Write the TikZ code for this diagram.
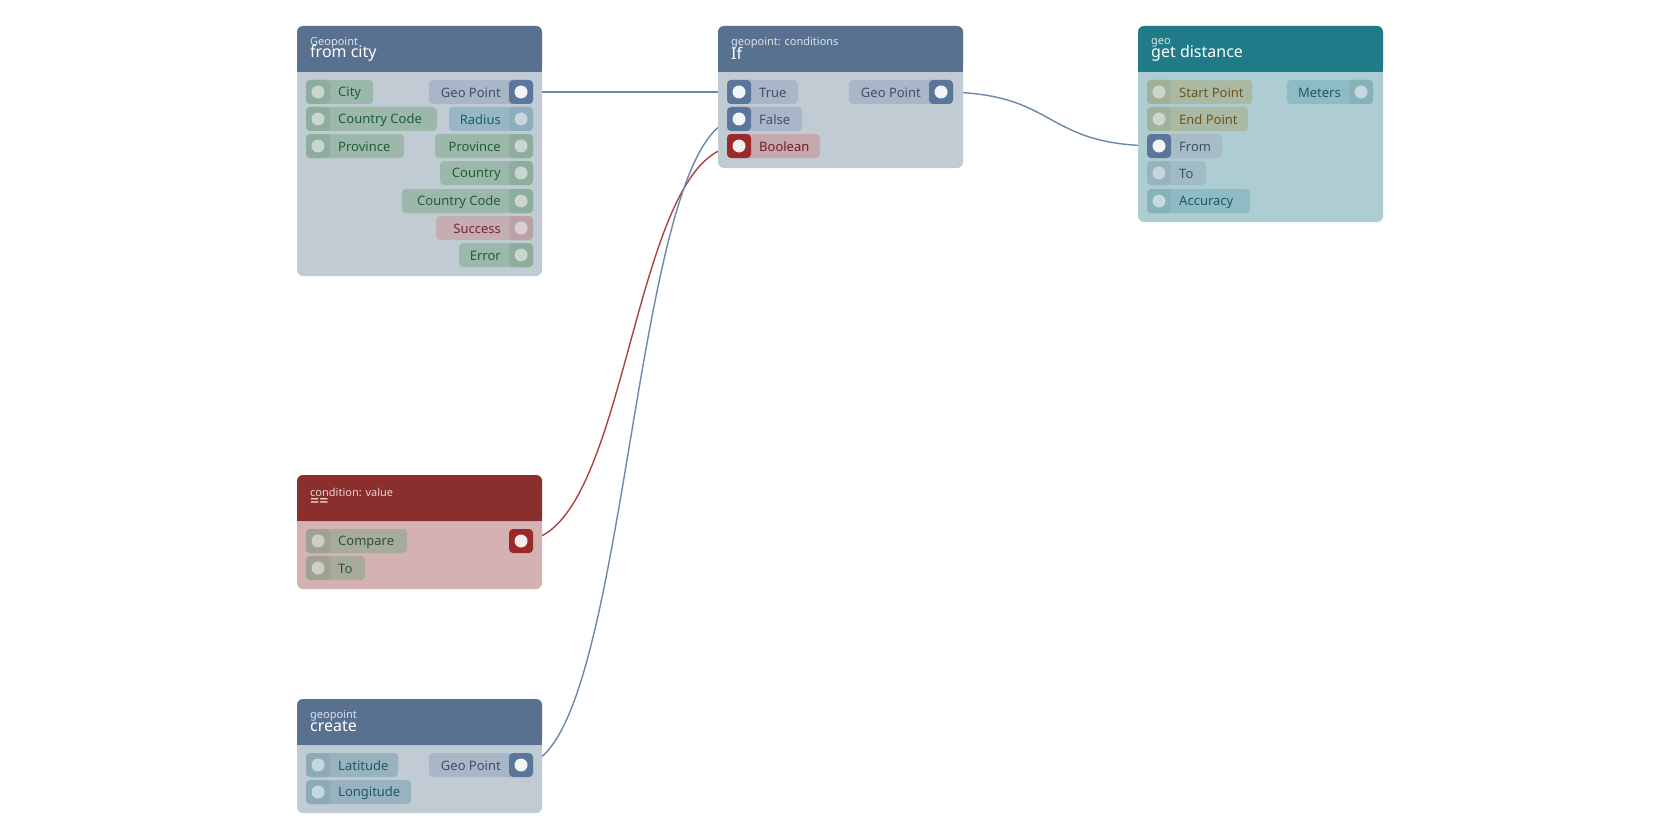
\documentclass[tikz,border=0pt]{standalone}
\usepackage{fontspec}
\setmainfont{Noto Sans}
\usetikzlibrary{backgrounds}
\definecolor{headB}{HTML}{587190}\definecolor{bodyB}{HTML}{C1CBD4}
\definecolor{headT}{HTML}{1E7B87}\definecolor{bodyT}{HTML}{ADCDD3}
\definecolor{headR}{HTML}{8B2E2E}\definecolor{bodyR}{HTML}{D4B2B4}
% pin types: P pill, S socket, D dot, T text
\definecolor{grnP}{HTML}{9BB8AB}\definecolor{grnS}{HTML}{8DAE9F}\definecolor{grnD}{HTML}{C8D6CF}\definecolor{grnT}{HTML}{1F5C3A}
\definecolor{gpP}{HTML}{A8B6C8}\definecolor{gpS}{HTML}{5A769A}\definecolor{gpD}{HTML}{F2F5F8}\definecolor{gpT}{HTML}{3D5068}
\definecolor{radP}{HTML}{98B7C4}\definecolor{radS}{HTML}{8DAEBC}\definecolor{radD}{HTML}{C5D6DD}\definecolor{radT}{HTML}{1F5C70}
\definecolor{sucP}{HTML}{C4ADB3}\definecolor{sucS}{HTML}{BBA2A9}\definecolor{sucD}{HTML}{DCCDD1}\definecolor{sucT}{HTML}{7A2A2A}
\definecolor{booP}{HTML}{C4A8AE}\definecolor{booS}{HTML}{9A2A2A}\definecolor{booD}{HTML}{F5ECEC}\definecolor{booT}{HTML}{6E1F22}
\definecolor{oliP}{HTML}{AAB9A4}\definecolor{oliS}{HTML}{A0B09A}\definecolor{oliD}{HTML}{CDD6CA}\definecolor{oliT}{HTML}{6A5520}
\definecolor{frP}{HTML}{A8BCC6}\definecolor{frS}{HTML}{5A769A}\definecolor{frD}{HTML}{F2F5F8}\definecolor{frT}{HTML}{3D5068}
\definecolor{toP}{HTML}{9FBCC6}\definecolor{toS}{HTML}{96B3BE}\definecolor{toD}{HTML}{C5D6DD}\definecolor{toT}{HTML}{3D5068}
\definecolor{accP}{HTML}{8FBCC4}\definecolor{accS}{HTML}{86B2BA}\definecolor{accD}{HTML}{C5DADE}\definecolor{accT}{HTML}{1F5868}
\definecolor{cmpP}{HTML}{A8AA9C}\definecolor{cmpS}{HTML}{9FA193}\definecolor{cmpD}{HTML}{CDCFC6}\definecolor{cmpT}{HTML}{2A5535}
\definecolor{latP}{HTML}{98B3BF}\definecolor{latS}{HTML}{8DAAB7}\definecolor{latD}{HTML}{C5D6DD}\definecolor{latT}{HTML}{1F5868}
\definecolor{wireB}{HTML}{6D87A8}\definecolor{wireR}{HTML}{A84444}
\newcommand\pinfont{\fontsize{13}{15}\selectfont}
\newcommand\lpin[6]{%
 \fill[#2P,rounded corners=4pt] (#3,#5-12) rectangle (#4,#5+12);
 \fill[#2S,rounded corners=4pt] (#3,#5-12) rectangle (#3+24,#5+12);
 \node[circle,fill=#2D,minimum size=13pt,inner sep=0pt] (#1) at (#3+12,#5) {};
 \node[anchor=west,text=#2T,font=\pinfont,inner sep=0pt] (#1l) at (#3+32,#5+1) {#6};}
\newcommand\rpin[6]{%
 \fill[#2P,rounded corners=4pt] (#3,#5-12) rectangle (#4,#5+12);
 \fill[#2S,rounded corners=4pt] (#4-24,#5-12) rectangle (#4,#5+12);
 \node[circle,fill=#2D,minimum size=13pt,inner sep=0pt] (#1) at (#4-12,#5) {};
 \node[anchor=east,text=#2T,font=\pinfont,inner sep=0pt] (#1l) at (#4-32,#5+1) {#6};}
\newcommand\gnode[8]{% name x1 y1 x2 y2 head body sub
 \fill[#7,rounded corners=6pt] (#2,#3) rectangle (#4,#5);
 \fill[#6,rounded corners=6pt] (#2,#3) rectangle (#4,#3+46);
 \fill[#6] (#2,#3+30) rectangle (#4,#3+46);
 \node[anchor=west,inner sep=0pt,text=white!80!#6,font=\fontsize{11}{12}\selectfont] (#1s) at (#2+13,#3+17) {#8};}
\begin{document}
\begin{tikzpicture}[x=1pt,y=-1pt,wire/.style={line width=1.4pt},
  ttl/.style={anchor=west,inner sep=0pt,text=white,font=\fontsize{16}{18}\selectfont}]
\useasboundingbox (0,0) rectangle (1680,840);
% node 1
\gnode{na}{297}{26}{542}{276}{headB}{bodyB}{Geopoint}
\node[ttl] (nat) at (310,53) {from city};
\lpin{aCity}{grn}{306}{373}{92}{City}
\lpin{aCC}{grn}{306}{437}{119}{Country Code}
\lpin{aProv}{grn}{306}{404}{146}{Province}
\rpin{aGP}{gp}{429}{533}{92}{Geo Point}
\rpin{aRad}{rad}{449}{533}{119}{Radius}
\rpin{aProvO}{grn}{435}{533}{146}{Province}
\rpin{aCtry}{grn}{440}{533}{173}{Country}
\rpin{aCCO}{grn}{402}{533}{201}{Country Code}
\rpin{aSuc}{suc}{436}{533}{228}{Success}
\rpin{aErr}{grn}{459}{533}{255}{Error}
% node 2
\gnode{nb}{718}{26}{963}{168}{headB}{bodyB}{geopoint: conditions}
\node[ttl] (nbt) at (731,53) {If};
\lpin{bTrue}{gp}{727}{798}{92}{True}
\lpin{bFalse}{gp}{727}{802}{119}{False}
\lpin{bBool}{boo}{727}{820}{146}{Boolean}
\rpin{bGP}{gp}{849}{953}{92}{Geo Point}
% node 3
\gnode{nc}{1138}{26}{1383}{222}{headT}{bodyT}{geo}
\node[ttl] (nct) at (1151,53) {get distance};
\lpin{cSP}{oli}{1147}{1252}{92}{Start Point}
\lpin{cEP}{oli}{1147}{1248}{119}{End Point}
\lpin{cFrom}{fr}{1147}{1222}{146}{From}
\lpin{cTo}{to}{1147}{1206}{173}{To}
\lpin{cAcc}{acc}{1147}{1250}{201}{Accuracy}
\rpin{cMet}{acc}{1287}{1373}{92}{Meters}
% node 4
\gnode{nd}{297}{475}{542}{589}{headR}{bodyR}{condition: value}
\node[ttl] (ndt) at (310,503) {==};
\lpin{dCmp}{cmp}{306}{407}{541}{Compare}
\lpin{dTo}{cmp}{306}{365}{568}{To}
\fill[booS,rounded corners=4pt] (509,529) rectangle (533,553);
\node[circle,fill=booD,minimum size=13pt,inner sep=0pt] (dOut) at (521,541) {};
% node 5
\gnode{ne}{297}{699}{542}{813}{headB}{bodyB}{geopoint}
\node[ttl] (net) at (310,726) {create};
\lpin{eLat}{lat}{306}{398}{765}{Latitude}
\lpin{eLon}{lat}{306}{411}{792}{Longitude}
\rpin{eGP}{gp}{429}{533}{765}{Geo Point}
% wires
\begin{scope}[on background layer]
\fill[white] (0,0) rectangle (1680,840);
\draw[wire,wireB] (aGP.center) -- (bTrue.center);
\draw[wire,wireB] (bGP.center) .. controls +(120,0) and +(-120,0) .. (cFrom.center);
\draw[wire,wireR] (dOut.center) .. controls +(110,0) and +(-110,0) .. (bBool.center);
\draw[wire,wireB] (eGP.center) .. controls +(110,0) and +(-110,0) .. (bFalse.center);
\end{scope}
\end{tikzpicture}
\end{document}
